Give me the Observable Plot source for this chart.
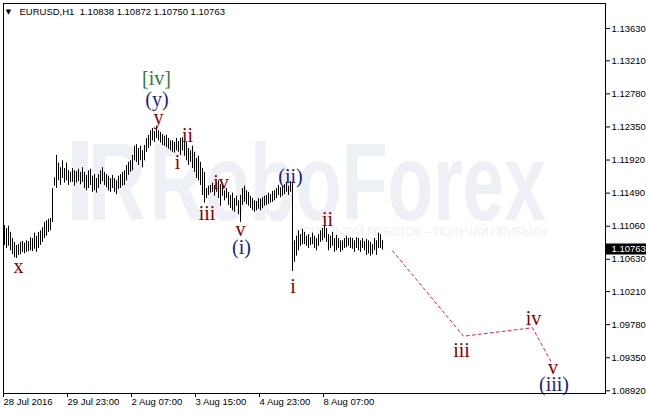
<!DOCTYPE html>
<html><head><meta charset="utf-8">
<script src="https://cdn.jsdelivr.net/npm/d3@7"></script>
<script src="https://cdn.jsdelivr.net/npm/@observablehq/plot@0.6"></script>
<style>html,body{margin:0;padding:0;background:#fff;} svg{display:block}</style>
</head><body><div id="chart"></div>
<script>
// ---- data (EURUSD H1) ----
const symbolTitle = "EURUSD,H1\u00a0\u00a01.10838 1.10872 1.10750 1.10763";
const lastClose = 1.10763;

const barHigh = [
  1.1107,1.1103,1.1106,1.1098,1.1090,1.1085,1.1081,1.1082,1.1085,1.1086,
  1.1084,1.1087,1.1086,1.1091,1.1090,1.1097,1.1093,1.1098,1.1100,1.1104,
  1.1111,1.1113,1.1115,1.1116,1.1155,1.1169,1.1198,1.1188,1.1182,1.1191,
  1.1181,1.1188,1.1178,1.1176,1.1181,1.1178,1.1177,1.1180,1.1176,1.1182,
  1.1176,1.1172,1.1178,1.1180,1.1171,1.1173,1.1168,1.1173,1.1178,1.1182,
  1.1176,1.1173,1.1171,1.1168,1.1172,1.1168,1.1165,1.1171,1.1173,1.1176,
  1.1178,1.1185,1.1189,1.1191,1.1198,1.1210,1.1212,1.1207,1.1210,1.1204,
  1.1211,1.1220,1.1224,1.1230,1.1233,1.1229,1.1236,1.1230,1.1228,1.1225,
  1.1223,1.1224,1.1220,1.1217,1.1217,1.1215,1.1220,1.1216,1.1220,1.1221,
  1.1217,1.1215,1.1207,1.1204,1.1210,1.1202,1.1194,1.1197,1.1189,1.1181,
  1.1176,1.1155,1.1158,1.1159,1.1162,1.1159,1.1163,1.1165,1.1160,1.1158,
  1.1152,1.1155,1.1150,1.1146,1.1149,1.1142,1.1145,1.1139,1.1146,1.1155,
  1.1158,1.1152,1.1150,1.1145,1.1142,1.1139,1.1138,1.1142,1.1141,1.1143,
  1.1145,1.1146,1.1149,1.1147,1.1151,1.1152,1.1155,1.1159,1.1156,1.1158,
  1.1160,1.1163,1.1158,1.1164,1.1162,1.1087,1.1093,1.1100,1.1095,1.1102,
  1.1098,1.1093,1.1095,1.1091,1.1097,1.1093,1.1090,1.1095,1.1100,1.1103,
  1.1106,1.1103,1.1095,1.1093,1.1098,1.1090,1.1094,1.1090,1.1087,1.1087,
  1.1090,1.1093,1.1090,1.1091,1.1090,1.1087,1.1091,1.1090,1.1087,1.1090,
  1.1086,1.1089,1.1087,1.1085,1.1082,1.1090,1.1087,1.1097,1.1095,1.10872
];
const barLow = [
  1.1081,1.1077,1.1080,1.1074,1.1069,1.1065,1.1064,1.1068,1.1069,1.1072,
  1.1070,1.1072,1.1073,1.1074,1.1073,1.1076,1.1072,1.1077,1.1081,1.1085,
  1.1090,1.1093,1.1098,1.1100,1.1111,1.1158,1.1155,1.1165,1.1159,1.1168,
  1.1162,1.1165,1.1159,1.1163,1.1163,1.1158,1.1162,1.1164,1.1160,1.1163,
  1.1155,1.1152,1.1155,1.1159,1.1150,1.1152,1.1149,1.1155,1.1160,1.1164,
  1.1159,1.1156,1.1152,1.1150,1.1155,1.1150,1.1147,1.1154,1.1155,1.1158,
  1.1159,1.1165,1.1172,1.1176,1.1178,1.1191,1.1189,1.1185,1.1191,1.1182,
  1.1191,1.1202,1.1207,1.1210,1.1217,1.1215,1.1220,1.1217,1.1214,1.1211,
  1.1210,1.1208,1.1206,1.1204,1.1202,1.1201,1.1204,1.1202,1.1198,1.1204,
  1.1197,1.1191,1.1185,1.1189,1.1181,1.1176,1.1168,1.1165,1.1159,1.1146,
  1.1136,1.1142,1.1146,1.1149,1.1150,1.1145,1.1150,1.1142,1.1132,1.1145,
  1.1139,1.1142,1.1133,1.1129,1.1126,1.1124,1.1132,1.1121,1.1111,1.1133,
  1.1137,1.1134,1.1132,1.1129,1.1126,1.1124,1.1126,1.1128,1.1126,1.1129,
  1.1132,1.1133,1.1134,1.1136,1.1137,1.1139,1.1142,1.1146,1.1143,1.1145,
  1.1147,1.1150,1.1146,1.1150,1.1047,1.1059,1.1067,1.1074,1.1080,1.1082,
  1.1082,1.1080,1.1077,1.1081,1.1082,1.1077,1.1074,1.1080,1.1085,1.1087,
  1.1090,1.1085,1.1074,1.1077,1.1080,1.1072,1.1074,1.1077,1.1072,1.1074,
  1.1077,1.1078,1.1080,1.1077,1.1076,1.1072,1.1077,1.1074,1.1072,1.1077,
  1.1074,1.1068,1.1070,1.1067,1.1069,1.1074,1.1068,1.1077,1.1077,1.1075
];

const xTickIndex = [-0.5, 31.5, 63.5, 95.5, 127.5, 159.5];
const xTickLabels = ["28 Jul 2016", "29 Jul 23:00", "2 Aug 07:00", "3 Aug 15:00", "4 Aug 23:00", "8 Aug 07:00"];
const yTicks = [1.13630, 1.13210, 1.12780, 1.12350, 1.11920, 1.11490, 1.11060, 1.10630, 1.10210, 1.09780, 1.09350, 1.08920];

// forecast path (dashed)
const projIndex = [194, 229.5, 264, 273];
const projPrice = [1.1074, 1.0963, 1.0974, 1.0931];

// Elliott wave labels
const waveText   = ["[iv]", "(y)", "y", "i", "ii", "iii", "iv", "v", "(i)", "(ii)", "i", "ii", "x", "iii", "iv", "v", "(iii)"];
const waveIndex  = [76, 76.25, 77, 86.5, 91.5, 101.25, 108.25, 118, 118.5, 143, 144.25, 161.5, 7, 228.5, 264.5, 274.25, 274.75];
const wavePrice  = [1.1298, 1.1271, 1.1247, 1.1189, 1.1224, 1.1122, 1.1163, 1.1102, 1.1078, 1.1171, 1.1028, 1.1115, 1.1054, 1.0944, 1.0986, 1.0922, 1.0900];
const waveDegree = ["primary", "intermediate", "minor", "minor", "minor", "minor", "minor", "minor", "intermediate", "intermediate", "minor", "minor", "minor", "minor", "minor", "minor", "intermediate"];
const degreeColor = {primary: "#2e7d32", intermediate: "#1a237e", minor: "#8b0000"};

// ---- build tables ----
const bars = barHigh.map((h, i) => ({i, high: h, low: barLow[i]}));
const proj = projIndex.map((x, k) => ({x, y: projPrice[k]}));
const waves = waveText.map((t, k) => ({t, x: waveIndex[k], y: wavePrice[k], c: degreeColor[waveDegree[k]]}));

const chart = Plot.plot({
  width: 646, height: 414,
  marginLeft: 3, marginRight: 41, marginTop: 3, marginBottom: 21,
  style: {fontFamily: "'Liberation Sans', Arial, sans-serif", fontSize: "9.5px", background: "#fff", color: "#000"},
  x: {type: "linear", domain: [-0.5, 300.5], axis: null},
  y: {domain: [1.08885, 1.13955], axis: null},
  marks: [
    Plot.ruleX(bars, {x: "i", y1: "low", y2: "high", stroke: "#000", strokeWidth: 1}),
    Plot.line(proj, {x: "x", y: "y", stroke: "#e0204f", strokeWidth: 1, strokeDasharray: "3,3"}),
    Plot.text(waves, {x: "x", y: "y", text: "t", fill: "c", fontFamily: "'Liberation Serif', 'Times New Roman', serif", fontSize: 20, lineAnchor: "middle"}),
    Plot.frame({stroke: "#000"}),
    Plot.axisY({anchor: "right", ticks: yTicks, tickFormat: d => d.toFixed(5), tickSize: 4, tickPadding: 2, fontSize: 9.5}),
    Plot.axisX({anchor: "bottom", ticks: xTickIndex, tickFormat: d => xTickLabels[xTickIndex.indexOf(d)], tickSize: 4, tickPadding: 1, textAnchor: "start", dx: 0, fontSize: 9.5}),
    Plot.ruleY([lastClose], {stroke: "#000", strokeWidth: 11, insetLeft: 603, insetRight: -41}),
    Plot.text([lastClose], {y: d => d, text: d => d.toFixed(5), frameAnchor: "right", dx: 6, textAnchor: "start", fill: "#fff", fontSize: 9.5}),
    Plot.text(["\u25BC"], {frameAnchor: "top-left", dx: 5, dy: 8, text: d => d, fontSize: 7, fontFamily: "'DejaVu Sans', sans-serif", textAnchor: "middle", lineAnchor: "middle"}),
    Plot.text([symbolTitle], {frameAnchor: "top-left", dx: 16, dy: 8, text: d => d, textAnchor: "start", lineAnchor: "middle", fontSize: 9.5})
  ]
});

// watermark (background decoration)
const svg = d3.select(chart);
const wm = svg.insert("g", "g").attr("fill", "#edf0f5").attr("text-anchor", "start")
  .attr("font-family", "'Liberation Sans', Arial, sans-serif");
wm.append("rect").attr("x", 72).attr("y", 141).attr("width", 16).attr("height", 79);
wm.append("text").attr("x", 88).attr("y", 220).attr("text-anchor", "start")
  .attr("font-size", 110).attr("font-weight", "bold").attr("textLength", 58).attr("lengthAdjust", "spacingAndGlyphs").text("R");
wm.append("text").attr("x", 150).attr("y", 220).attr("text-anchor", "start").attr("font-weight", "bold")
  .attr("font-size", 110).attr("textLength", 396).attr("lengthAdjust", "spacingAndGlyphs").text("RoboForex");
wm.append("text").attr("x", 295).attr("y", 236).attr("text-anchor", "start")
  .attr("font-size", 12.5).attr("textLength", 252).attr("lengthAdjust", "spacingAndGlyphs").text("ИСПОЛЬЗУЙ РОБОТОВ – ПОЛУЧАЙ ПРИБЫЛЬ");

document.getElementById("chart").append(chart);
</script>
</body></html>
